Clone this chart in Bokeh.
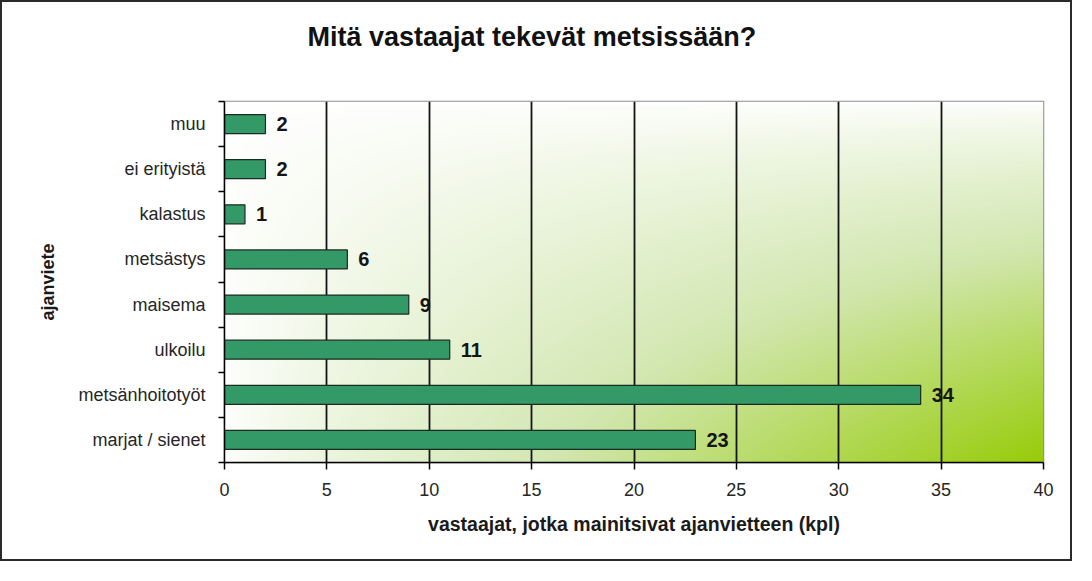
import numpy as np
from bokeh.plotting import figure
from bokeh.models import FixedTicker, Range1d, Title
from bokeh.core.properties import value
from bokeh.embed import file_html
from bokeh.resources import INLINE

# ---- data ----
categories = ["marjat / sienet", "metsänhoitotyöt", "ulkoilu", "maisema",
              "metsästys", "kalastus", "ei erityistä", "muu"]
counts = [23, 34, 11, 9, 6, 1, 2, 2]
x_ticks = [0, 5, 10, 15, 20, 25, 30, 35, 40]
title_text = "Mitä vastaajat tekevät metsissään?"
x_title = "vastaajat, jotka mainitsivat ajanvietteen (kpl)"
y_title = "ajanviete"

FONT = "Liberation Sans"
ypos = list(range(len(categories)))

p = figure(width=1072, height=561,
           x_range=Range1d(x_ticks[0], x_ticks[-1]),
           y_range=Range1d(-0.5, len(categories) - 0.5),
           output_backend="svg", toolbar_location=None,
           min_border_left=222, min_border_right=31,
           min_border_top=99, min_border_bottom=101)
p.styles = {"border": "2px solid #2a2a2a"}
p.background_fill_color = "white"
p.border_fill_color = "white"
p.outline_line_color = "#8c8c8c"
p.outline_line_width = 1.5

# ---- title (main title outermost, empty spacer title next to the frame) ----
p.title.text = title_text
p.title.align = "left"
p.title.offset = 83
p.title.standoff = 0
p.title.text_font = FONT
p.title.text_font_style = "bold"
p.title.text_font_size = "27px"
p.title.text_color = "#111111"
p.add_layout(Title(text=" ", text_font_size="2px", standoff=46), "above")

# ---- gradient background (white -> yellow-green toward bottom-right) ----
nx, ny = 400, 200
u = np.linspace(0, 1, nx)
vtop = np.linspace(1, 0, ny)  # row 0 is bottom
t = np.outer(vtop, u) ** 0.75
stops = [0.0, 0.5, 1.0]
r = np.interp(t, stops, [255, 210, 152])
g = np.interp(t, stops, [255, 231, 204])
b = np.interp(t, stops, [255, 176, 10])
img = np.empty((ny, nx), dtype=np.uint32)
view = img.view(dtype=np.uint8).reshape((ny, nx, 4))
view[:, :, 0] = r.astype(np.uint8)
view[:, :, 1] = g.astype(np.uint8)
view[:, :, 2] = b.astype(np.uint8)
view[:, :, 3] = 255
p.image_rgba(image=[img], x=x_ticks[0], y=-0.5, dw=x_ticks[-1] - x_ticks[0],
             dh=len(categories), level="image")

# ---- bars ----
p.hbar(y=ypos, left=0, right=counts, height=0.42,
       fill_color="#339966", line_color="#1c2b22", line_width=1.2)

p.text(x=counts, y=ypos, text=[str(c) for c in counts], x_offset=11,
       text_baseline="middle", text_align="left",
       text_font=value(FONT), text_font_style="bold",
       text_font_size="20px", text_color="#151515")

# ---- grid ----
p.xgrid.ticker = FixedTicker(ticks=x_ticks)
p.xgrid.grid_line_color = "#141414"
p.xgrid.grid_line_width = 1.8
p.ygrid.grid_line_color = None

# ---- x axis ----
xa = p.xaxis[0]
xa.ticker = FixedTicker(ticks=x_ticks)
xa.axis_line_color = "black"
xa.axis_line_width = 1.5
xa.major_tick_line_color = "black"
xa.major_tick_line_width = 1.5
xa.major_tick_out = 7
xa.major_tick_in = 0
xa.minor_tick_line_color = None
xa.major_label_standoff = 13
xa.major_label_text_font = FONT
xa.major_label_text_font_size = "18px"
xa.major_label_text_color = "#262626"
xa.axis_label = x_title
xa.axis_label_text_font = FONT
xa.axis_label_text_font_style = "bold"
xa.axis_label_text_font_size = "19.5px"
xa.axis_label_text_color = "#1a1a1a"
xa.axis_label_standoff = 14

# ---- y axis ----
ya = p.yaxis[0]
ya.ticker = FixedTicker(ticks=ypos, minor_ticks=[i - 0.5 for i in range(len(categories) + 1)])
ya.major_label_overrides = {i: c for i, c in zip(ypos, categories)}
ya.axis_line_color = "black"
ya.axis_line_width = 1.5
ya.major_tick_line_color = None
ya.major_tick_out = 0
ya.major_tick_in = 0
ya.minor_tick_line_color = "black"
ya.minor_tick_line_width = 1.5
ya.minor_tick_out = 6
ya.minor_tick_in = 0
ya.major_label_standoff = 13
ya.major_label_text_font = FONT
ya.major_label_text_font_size = "18px"
ya.major_label_text_color = "#262626"
ya.axis_label = y_title
ya.axis_label_text_font = FONT
ya.axis_label_text_font_style = "bold"
ya.axis_label_text_font_size = "18px"
ya.axis_label_text_color = "#1a1a1a"
ya.axis_label_standoff = 17

open("out.html", "w").write(file_html(p, INLINE))
